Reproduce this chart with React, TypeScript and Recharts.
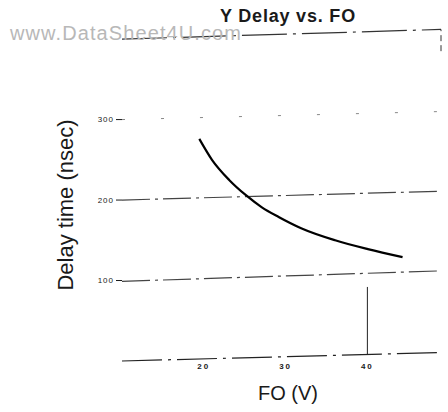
import React from "react";
import { LineChart, Line, XAxis, YAxis, ReferenceLine } from "recharts";

// FO voltage (V) vs. delay time (nsec)
const foVolts = [19.45, 21, 23.1, 25.15, 27.1, 29.15, 31.9, 36.06, 40.06, 44.3];
const delayNs = [276, 250, 225, 206, 191, 179, 165, 150, 139, 129];

const xTicks = [20, 30, 40];
const yTicks = [100, 200, 300];

const data = foVolts.map((fo, i) => ({ fo, delay: delayNs[i] }));

const FONT = "'Liberation Sans', Arial, sans-serif";
const INK = "#1a1a1a";

// the scan is a little tilted, so the rules rise towards the right
const tilt = (y0: number, y1: number) => [
  { x: 10, y: y0 },
  { x: 49, y: y1 },
];

export default function App() {
  return (
    <div
      style={{
        position: "absolute",
        left: 0,
        top: 0,
        width: 448,
        height: 412,
        background: "#fff",
        fontFamily: FONT,
      }}
    >
      <LineChart
        width={448}
        height={412}
        data={data}
        margin={{ top: 23, right: 7, bottom: 21, left: 62 }}
      >
        <XAxis
          dataKey="fo"
          type="number"
          domain={[10, 49]}
          ticks={xTicks}
          allowDataOverflow
          axisLine={false}
          tickLine={false}
          tickSize={0}
          tickMargin={2}
          tick={{ fontSize: 8, fill: INK, fontWeight: 700, letterSpacing: 2, fontFamily: FONT }}
          height={30}
        />
        <YAxis
          type="number"
          domain={[0, 420]}
          ticks={yTicks}
          allowDataOverflow
          axisLine={false}
          tickLine={{ stroke: INK }}
          tickSize={6}
          tickMargin={2}
          tick={{ fontSize: 8, fill: INK, letterSpacing: 1, fontFamily: FONT }}
          width={60}
        />

        {/* baseline and grid rules */}
        <ReferenceLine segment={tilt(0, 10.5)} stroke="#222" strokeWidth={1.2} strokeDasharray="40 6 3 6" />
        <ReferenceLine segment={tilt(99, 112)} stroke="#444" strokeWidth={1.2} strokeDasharray="28 5 3 5" />
        <ReferenceLine segment={tilt(200, 211)} stroke="#444" strokeWidth={1.2} strokeDasharray="28 5 3 5" />
        <ReferenceLine segment={tilt(300, 310)} stroke="#888" strokeWidth={1} strokeDasharray="3 36" />
        <ReferenceLine segment={tilt(400, 412)} stroke="#333" strokeWidth={1.2} strokeDasharray="45 6 3 6" />
        <ReferenceLine
          segment={[
            { x: 40, y: 8 },
            { x: 40, y: 92 },
          ]}
          stroke="#222"
          strokeWidth={1}
        />
        <ReferenceLine
          segment={[
            { x: 49, y: 385 },
            { x: 49, y: 412 },
          ]}
          stroke="#333"
          strokeWidth={1}
          strokeDasharray="6 4"
        />

        <Line
          type="monotone"
          dataKey="delay"
          stroke="#000"
          strokeWidth={2.2}
          dot={false}
          isAnimationActive={false}
        />
      </LineChart>

      <div
        style={{
          position: "absolute",
          left: 10,
          top: 23,
          fontSize: 20,
          lineHeight: "20px",
          letterSpacing: 1.1,
          color: "#b8b8b8",
          whiteSpace: "nowrap",
        }}
      >
        www.DataSheet4U.com
      </div>
      <div
        style={{
          position: "absolute",
          left: 220,
          top: 7,
          fontSize: 18,
          lineHeight: "18px",
          fontWeight: 700,
          letterSpacing: 0.8,
          color: INK,
          whiteSpace: "nowrap",
        }}
      >
        Y Delay vs. FO
      </div>
      <div
        style={{
          position: "absolute",
          left: 66 - 100,
          top: 205 - 11,
          width: 200,
          height: 22,
          fontSize: 22,
          lineHeight: "22px",
          textAlign: "center",
          color: INK,
          whiteSpace: "nowrap",
          transform: "rotate(-90deg)",
        }}
      >
        Delay time (nsec)
      </div>
      <div
        style={{
          position: "absolute",
          left: 258,
          top: 383,
          fontSize: 20,
          lineHeight: "20px",
          color: INK,
          whiteSpace: "nowrap",
        }}
      >
        FO (V)
      </div>
    </div>
  );
}
